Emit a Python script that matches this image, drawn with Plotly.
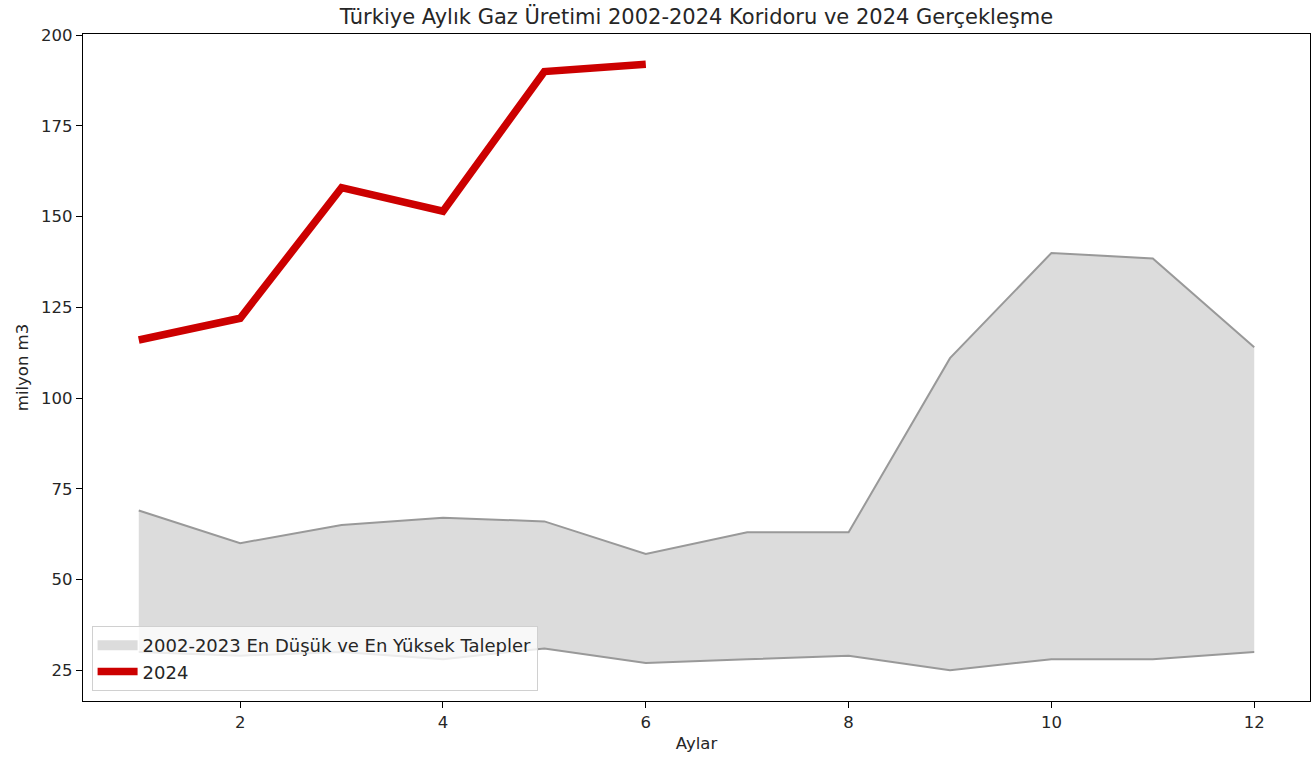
import plotly.graph_objects as go

# months and values (milyon m3)
months = [1, 2, 3, 4, 5, 6, 7, 8, 9, 10, 11, 12]
low_2002_2023 = [30, 29, 30, 28, 31, 27, 28, 29, 25, 28, 28, 30]
high_2002_2023 = [69, 60, 65, 67, 66, 57, 63, 63, 111, 140, 138.5, 114]

months_2024 = [1, 2, 3, 4, 5, 6]
actual_2024 = [116, 122, 158, 151.5, 190, 192]

x_ticks = [2, 4, 6, 8, 10, 12]
y_ticks = [25, 50, 75, 100, 125, 150, 175, 200]

FONT = "DejaVu Sans"
TXT = "#262626"

fig = go.Figure()

# corridor: lower edge first, then upper edge filled down to it
fig.add_trace(go.Scatter(x=months, y=low_2002_2023, mode="lines",
                         line=dict(color="#999999", width=2),
                         showlegend=False, hoverinfo="skip"))
fig.add_trace(go.Scatter(x=months, y=high_2002_2023, mode="lines",
                         line=dict(color="#999999", width=2),
                         fill="tonexty", fillcolor="#dcdcdc",
                         showlegend=False))
# legend patch only (matplotlib shows a plain filled box)
fig.add_trace(go.Scatter(x=[None], y=[None], mode="lines",
                         line=dict(color="#dcdcdc", width=16),
                         name="2002-2023 En Düşük ve En Yüksek Talepler"))

fig.add_trace(go.Scatter(x=months_2024, y=actual_2024, mode="lines",
                         line=dict(color="#cc0000", width=7.5),
                         name="2024"))

axis_style = dict(showline=True, linecolor="black", linewidth=1.2, mirror=True,
                  ticks="outside", ticklen=6, tickcolor="black",
                  showgrid=False, zeroline=False, automargin=False,
                  tickfont=dict(family=FONT, size=16.5, color=TXT))

fig.update_layout(
    width=1315, height=767,
    margin=dict(l=83, r=5, t=34, b=66),
    plot_bgcolor="white", paper_bgcolor="white",
    title=dict(text="Türkiye Aylık Gaz Üretimi 2002-2024 Koridoru ve 2024 Gerçekleşme",
               x=0.5, xref="paper", xanchor="center",
               y=1 - 17 / 767, yref="container", yanchor="middle", pad=dict(t=0),
               font=dict(family=FONT, size=21, color=TXT)),
    xaxis=dict(range=[0.45, 12.55], tickvals=x_ticks,
               title=dict(text="Aylar", font=dict(family=FONT, size=16.5, color=TXT),
                          standoff=6),
               **axis_style),
    yaxis=dict(range=[16.5, 200.35], tickvals=y_ticks,
               title=dict(text="milyon m3", font=dict(family=FONT, size=16.5, color=TXT),
                          standoff=8),
               **axis_style),
    legend=dict(x=0.007, y=0.015, xanchor="left", yanchor="bottom",
                traceorder="normal",
                bgcolor="rgba(255,255,255,0.8)", bordercolor="#d0d0d0", borderwidth=1,
                font=dict(family=FONT, size=18, color=TXT),
                tracegroupgap=0, itemwidth=40),
)

# drop the default 8px page margin so the figure sits at the window's corner
fig.write_html("out.html", config={"displayModeBar": False},
               post_script="document.body.style.margin = '0';")
